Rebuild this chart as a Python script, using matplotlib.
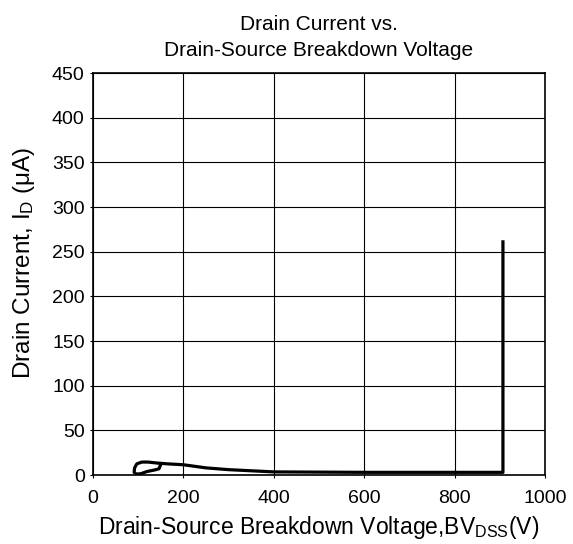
import matplotlib
matplotlib.use("Agg")
import matplotlib.pyplot as plt

plt.rcParams['font.family'] = ['Liberation Sans', 'DejaVu Sans']
plt.rcParams['mathtext.fontset'] = 'custom'
plt.rcParams['mathtext.rm'] = 'Liberation Sans'
plt.rcParams['mathtext.it'] = 'Liberation Sans'

# Data (BV_DSS in V, I_D in uA)
voltage = [150, 146, 136, 120, 106, 96, 91, 92, 97, 108, 122, 140, 165, 200, 250, 300, 400, 600, 800, 907, 907]
current = [12, 7, 5.6, 4, 1.5, 1, 3, 8, 12.5, 14.5, 14.5, 13.5, 12.5, 11.5, 8, 6, 3.5, 3, 3, 3, 261]

x_ticks = [0, 200, 400, 600, 800, 1000]
y_ticks = [0, 50, 100, 150, 200, 250, 300, 350, 400, 450]

fig = plt.figure(figsize=(5.73, 5.44), dpi=100)
ax = fig.add_axes([0.1623, 0.1268, 0.7888, 0.739])
ax.plot(voltage, current, color='black', linewidth=2.3, solid_joinstyle='round')
ax.set_xlim(0, 1000)
ax.set_ylim(0, 450)
ax.set_xticks(x_ticks)
ax.set_yticks(y_ticks)
ax.grid(True, color='black', linewidth=0.8)
ax.set_axisbelow(True)
for s in ax.spines.values():
    s.set_linewidth(1.2)
ax.tick_params(labelsize=14, length=2, width=0.8, colors='black', pad=4)
ax.tick_params(axis='x', pad=9)
ax.set_title('Drain Current vs.\nDrain-Source Breakdown Voltage', fontsize=15, pad=12, linespacing=1.5)
ax.set_xlabel('Drain-Source Breakdown Voltage,BV$_{\\mathrm{DSS}}$(V)', fontsize=16.5, labelpad=5)
ax.set_ylabel('Drain Current, I$_{\\mathrm{D}}$ (μA)', fontsize=17.5)
ax.yaxis.set_label_coords(-0.125, 0.527)
fig.savefig('out.png', dpi=100)
